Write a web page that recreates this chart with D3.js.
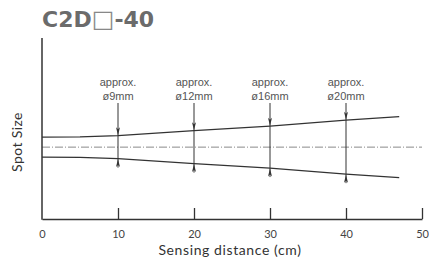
<!DOCTYPE html>
<html><head><meta charset="utf-8">
<script src="https://cdn.jsdelivr.net/npm/d3@7"></script>
<style>body{margin:0;background:#fff}svg{display:block}</style>
</head><body><svg id="c" width="429" height="272"></svg>
<script>
const xTicks = [0, 10, 20, 30, 40, 50];
const beamDist = [0, 5, 10, 20, 30, 40, 47];
const beamDiam = [7.4, 7.6, 8.5, 12.2, 15.5, 20, 22.6];
const markDist = [10, 20, 30, 40];
const markLabel = ["ø9mm", "ø12mm", "ø16mm", "ø20mm"];
const titleA = "C2D", titleBox = "□", titleB = "-40";
const xTitle = "Sensing distance (cm)";
const yTitle = "Spot Size";

const svg = d3.select("#c");
const x = d3.scaleLinear().domain([0, 50]).range([42, 422]);
const y = d3.scaleLinear().domain([-26.6, 40.4]).range([219, 38]);
const ink = "#333";

const t = svg.append("text").attr("x",42).attr("y",27)
  .attr("font-family","DejaVu Sans").attr("font-weight","bold").attr("font-size",22)
  .attr("fill","#6b6b6b");
t.append("tspan").text(titleA);
t.append("tspan").text(titleBox).attr("font-weight","normal").attr("font-size",24).attr("fill","#888");
t.append("tspan").text(titleB);

// center dash-dot line
svg.append("line").attr("x1",x(0)).attr("x2",x(50)).attr("y1",y(0)).attr("y2",y(0))
  .attr("stroke","#8a8a8a").attr("stroke-width",1).attr("stroke-dasharray","8,2,1,2");

const pts = beamDist.map((d,i)=>[d, beamDiam[i]/2]);
const line = d3.line().x(d=>x(d[0]));
svg.append("path").attr("d", line.y(d=>y(d[1]))(pts)).attr("fill","none").attr("stroke",ink).attr("stroke-width",1.3);
svg.append("path").attr("d", line.y(d=>y(-d[1]))(pts)).attr("fill","none").attr("stroke",ink).attr("stroke-width",1.3);

const rAt = d => { const i = d3.bisectLeft(beamDist, d); if (beamDist[i]===d) return beamDiam[i]/2;
  const f=(d-beamDist[i-1])/(beamDist[i]-beamDist[i-1]); return (beamDiam[i-1]+f*(beamDiam[i]-beamDiam[i-1]))/2; };

const head = (cx, tipY, dir) => `M${cx},${tipY} L${cx-2},${tipY-dir*8} L${cx},${tipY-dir*6} L${cx+2},${tipY-dir*8} Z`;

markDist.forEach((d,i)=>{
  const r = rAt(d);
  const cx = x(d);
  const g = svg.append("g");
  g.append("line").attr("x1",cx).attr("x2",cx).attr("y1",103).attr("y2",y(-r)+9)
    .attr("stroke",ink).attr("stroke-width",1);
  g.append("path").attr("d", head(cx, y(r)-0.5, 1)).attr("fill",ink);
  g.append("path").attr("d", head(cx, y(-r)+0.5, -1)).attr("fill",ink);
  g.append("text").attr("x",cx).attr("y",86).attr("text-anchor","middle").text("approx.")
    .attr("font-family","Liberation Sans").attr("font-size",11).attr("fill","#555");
  g.append("text").attr("x",cx).attr("y",100).attr("text-anchor","middle").text(markLabel[i])
    .attr("font-family","Liberation Sans").attr("font-size",11).attr("fill","#555");
});

const xa = svg.append("g").attr("transform","translate(0,219)")
  .call(d3.axisBottom(x).tickValues(xTicks).tickSize(-11).tickPadding(11).tickSizeOuter(0));
xa.select(".domain").attr("stroke",ink).attr("stroke-width",1.5);
xa.selectAll(".tick line").attr("stroke",ink).attr("stroke-width",1.3);
xa.selectAll(".tick").filter(d=>d===0).select("line").remove();
xa.selectAll("text").attr("font-family","Lato").attr("font-size",11).attr("fill","#444");
svg.append("line").attr("x1",42).attr("x2",42).attr("y1",38).attr("y2",219.75).attr("stroke",ink).attr("stroke-width",1.5);

svg.append("text").attr("x",230).attr("y",255).attr("text-anchor","middle").text(xTitle)
  .attr("font-family","Lato").attr("font-size",14).attr("letter-spacing",0.6).attr("fill","#333");
svg.append("text").attr("transform","translate(22,142) rotate(-90)").attr("text-anchor","middle").text(yTitle)
  .attr("font-family","Lato").attr("font-size",14).attr("letter-spacing",0.4).attr("fill","#333");
</script></body></html>
